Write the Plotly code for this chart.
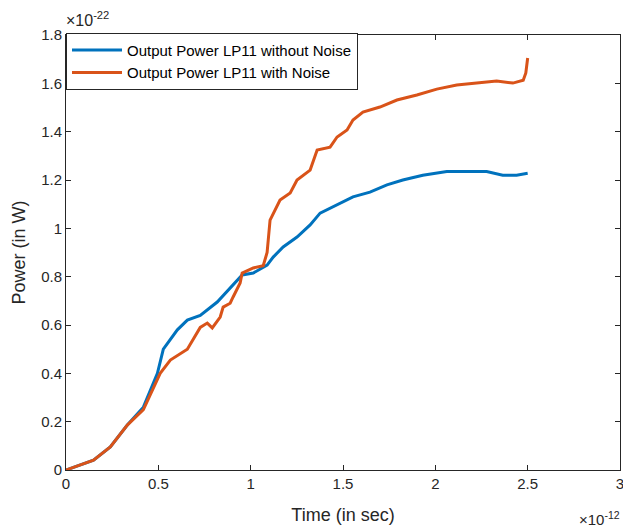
import plotly.graph_objects as go

# Time in units of 1e-12 s, power in units of 1e-22 W
t_no_noise = [0, 0.149, 0.24, 0.332, 0.419, 0.495, 0.527, 0.603, 0.657, 0.727, 0.819, 0.905,
              0.954, 1.014, 1.089, 1.122, 1.176, 1.251, 1.322, 1.376, 1.468, 1.554, 1.646,
              1.738, 1.824, 1.932, 2.062, 2.278, 2.365, 2.44, 2.5]
p_no_noise = [0, 0.041, 0.095, 0.186, 0.26, 0.40, 0.50, 0.58, 0.62, 0.64, 0.695, 0.765,
              0.807, 0.815, 0.848, 0.881, 0.923, 0.964, 1.014, 1.063, 1.096, 1.13, 1.15,
              1.18, 1.20, 1.22, 1.235, 1.235, 1.22, 1.22, 1.228]

t_noise = [0, 0.149, 0.24, 0.332, 0.419, 0.51, 0.565, 0.657, 0.727, 0.765, 0.792, 0.835,
           0.851, 0.889, 0.905, 0.943, 0.954, 1.014, 1.068, 1.089, 1.095, 1.105, 1.159,
           1.214, 1.251, 1.322, 1.36, 1.43, 1.468, 1.522, 1.554, 1.608, 1.7, 1.792, 1.9,
           2.008, 2.116, 2.24, 2.332, 2.42, 2.476, 2.49, 2.5]
p_noise = [0, 0.041, 0.095, 0.186, 0.25, 0.40, 0.455, 0.50, 0.59, 0.608, 0.588, 0.633,
           0.674, 0.69, 0.716, 0.774, 0.815, 0.836, 0.845, 0.90, 0.95, 1.034, 1.117,
           1.146, 1.2, 1.241, 1.324, 1.336, 1.378, 1.407, 1.448, 1.481, 1.502, 1.531, 1.552,
           1.576, 1.593, 1.601, 1.61, 1.601, 1.613, 1.643, 1.705]

x_ticks = [0, 0.5, 1, 1.5, 2, 2.5, 3]
y_ticks = [0, 0.2, 0.4, 0.6, 0.8, 1, 1.2, 1.4, 1.6, 1.8]
x_tick_text = [f"{v:g}" for v in x_ticks]
y_tick_text = [f"{v:g}" for v in y_ticks]

fig = go.Figure()
fig.add_trace(go.Scatter(x=t_no_noise, y=p_no_noise, mode="lines",
                         name="Output Power LP11 without Noise",
                         line=dict(color="#0072BD", width=3)))
fig.add_trace(go.Scatter(x=t_noise, y=p_noise, mode="lines",
                         name="Output Power LP11 with Noise",
                         line=dict(color="#D95319", width=3)))

axis_common = dict(showgrid=False, zeroline=False, showline=True, linecolor="#262626",
                   linewidth=1, mirror="ticks", ticks="inside", ticklen=5,
                   tickcolor="#262626", tickfont=dict(size=15, color="#262626"),
                   automargin=False, ticklabeloverflow="allow")

fig.update_layout(
    width=623, height=528,
    margin=dict(l=66, r=3, t=35, b=58),
    paper_bgcolor="white", plot_bgcolor="white",
    font=dict(family="Liberation Sans, Arial, sans-serif", color="#262626"),
    xaxis=dict(range=[0, 3], tickvals=x_ticks, ticktext=x_tick_text,
               title=dict(text="Time (in sec)", font=dict(size=18), standoff=17),
               **axis_common),
    yaxis=dict(range=[0, 1.8], tickvals=y_ticks, ticktext=y_tick_text,
               title=dict(text="Power (in W)", font=dict(size=18), standoff=10),
               **axis_common),
    legend=dict(x=0.0, y=1.005, xanchor="left", yanchor="top",
                bgcolor="white", bordercolor="#262626", borderwidth=1,
                font=dict(size=15, color="#000000"), tracegroupgap=0,
                itemwidth=50),
    showlegend=True,
)

fig.add_annotation(xref="paper", yref="paper", x=0.0, y=1.0, xanchor="left", yanchor="middle",
                   text="×10<sup>-22</sup>", showarrow=False, font=dict(size=16, color="#262626"),
                   yshift=16, xshift=-2)
fig.add_annotation(xref="paper", yref="paper", x=1.0, y=0.0, xanchor="right", yanchor="middle",
                   text="×10<sup>-12</sup>", showarrow=False, font=dict(size=15, color="#262626"),
                   yshift=-48, xshift=2)

fig.write_html(
    "out.html",
    config={"displayModeBar": False},
    post_script="document.body.style.margin='0';document.body.style.overflow='hidden';",
)
